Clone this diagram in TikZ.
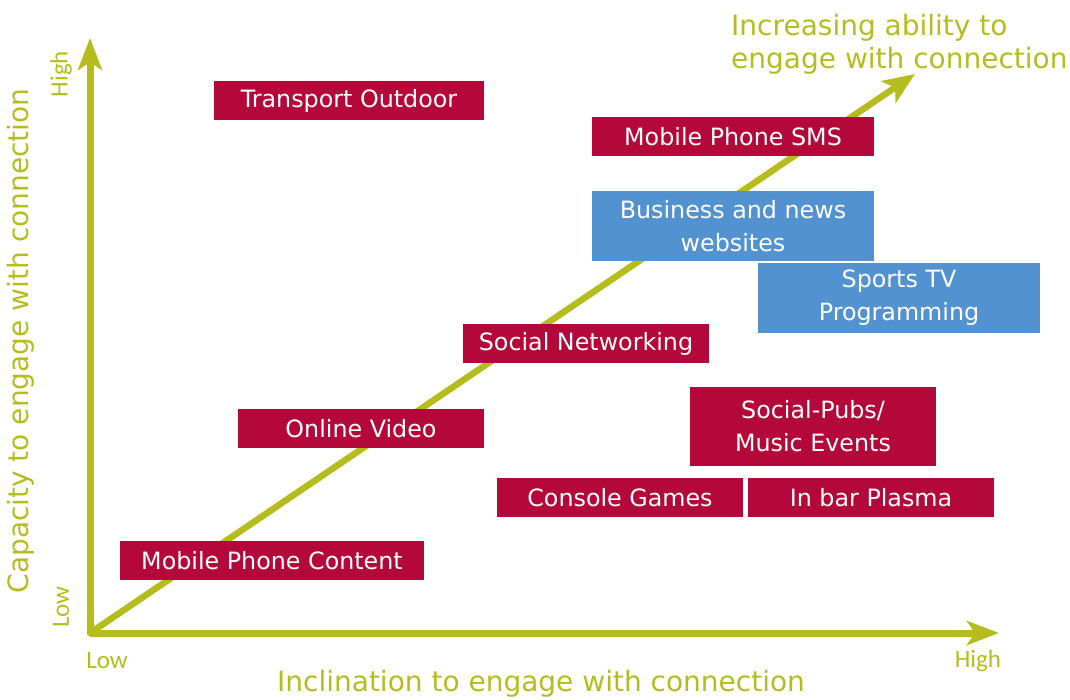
\documentclass[tikz,border=0pt]{standalone}
\usepackage{fontspec}
\setmainfont{DejaVu Sans}
\newfontfamily\tickfont{Carlito}
\usetikzlibrary{arrows.meta, positioning}
\definecolor{olive}{RGB}{181,189,30}
\definecolor{crimson}{RGB}{181,8,58}
\definecolor{skyblue}{RGB}{83,146,208}
\tikzset{
	axis/.style={olive, line width=7pt, -{Stealth[width=24pt, length=32pt, inset=8pt]}},
	trend/.style={olive, line width=6.5pt, line cap=round, -{Stealth[width=26pt, length=32pt, inset=8pt]}},
	item/.style={fill=crimson, text=white, inner sep=0pt, align=center, font=\fontsize{23.8}{33}\selectfont},
	itemBlue/.style={item, fill=skyblue},
	axisTitle/.style={text=olive, font=\fontsize{28}{33}\selectfont, inner sep=0pt},
	tick/.style={text=olive, font=\tickfont\fontsize{25}{28}\selectfont, inner sep=0pt}
}

\begin{document}
\begin{tikzpicture}[x=1pt, y=-1pt]
\useasboundingbox (0,0) rectangle (1070,700);
% axes
\coordinate (o) at (90,633);
\coordinate (ytip) at (90,38);
\coordinate (xtip) at (999,633);
\coordinate (dtip) at (915,74);
\draw[axis] (o) -- (ytip);
\draw[axis] (o) -- (xtip);
\draw[trend] (o) -- (dtip);
% boxes
\node[item, minimum width=270pt, minimum height=39pt] (transport) at (349,100.5) {Transport Outdoor};
\node[item, minimum width=282pt, minimum height=39pt] (sms) at (733,136.5) {Mobile Phone SMS};
\node[itemBlue, minimum width=282pt, minimum height=70pt] (news) at (733,226) {Business and news\\websites};
\node[itemBlue, minimum width=282pt, minimum height=70pt] (sports) at (899,298) {Sports TV\\Programming};
\node[item, minimum width=246pt, minimum height=39pt] (social) at (586,343.5) {Social Networking};
\node[item, minimum width=246pt, minimum height=39pt] (video) at (361,428.5) {Online Video};
\node[item, minimum width=246pt, minimum height=79pt] (pubs) at (813,426.5) {Social-Pubs/\\Music Events};
\node[item, minimum width=246pt, minimum height=39pt] (games) at (620,497.5) {Console Games};
\node[item, minimum width=246pt, minimum height=39pt] (plasma) at (871,497.5) {In bar Plasma};
\node[item, minimum width=304pt, minimum height=39pt] (content) at (272,560.5) {Mobile Phone Content};
% labels
\node[axisTitle, align=left, anchor=north west] (trendlabel) at (731,14) {Increasing ability to\\engage with connection};
\node[axisTitle] (xlabel) at (541,684) {Inclination to engage with connection};
\node[axisTitle, rotate=90] (ylabel) at (21,341) {Capacity to engage with connection};
\node[tick, rotate=90] (yhigh) at (61,74) {High};
\node[tick, rotate=90] (ylow) at (61,607) {Low};
\node[tick] (xlow) at (107,661) {Low};
\node[tick] (xhigh) at (978,661) {High};
\end{tikzpicture}
\end{document}
